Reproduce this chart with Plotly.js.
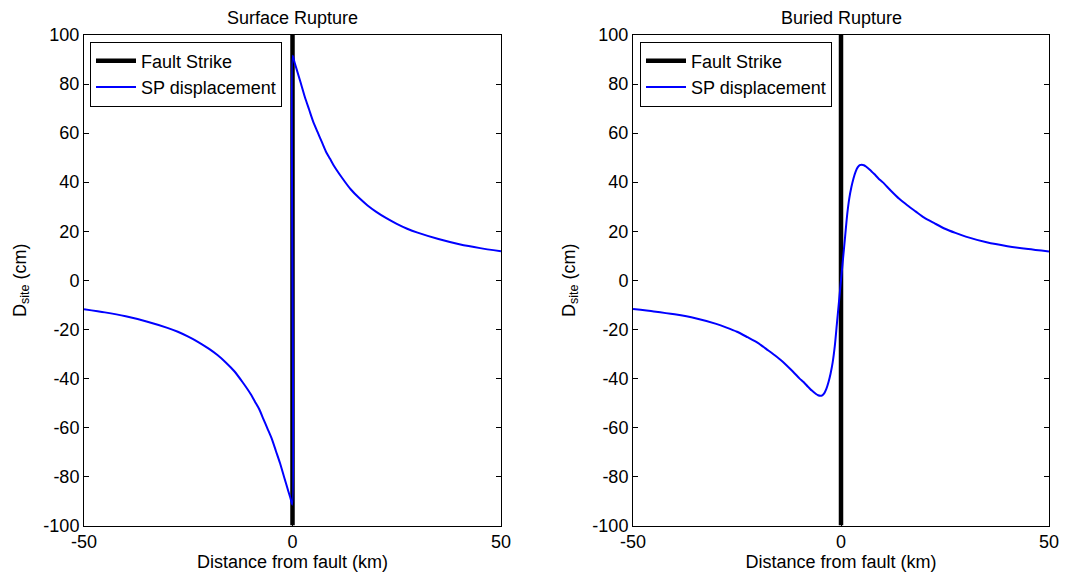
<!DOCTYPE html>
<html>
<head>
<meta charset="utf-8">
<script src="https://cdn.plot.ly/plotly-3.0.1.min.js"></script>
<style>html,body{margin:0;padding:0;background:#fff;}#chart{width:1065px;height:577px;}</style>
</head>
<body>
<div id="chart"></div>
<script>
// ---- data ----
var panelTitles = ["Surface Rupture", "Buried Rupture"];
var legendNames = ["Fault Strike", "SP displacement"];
var faultX = [0, 0];
var faultY = [-100, 100];

var surfX = [-50,-45,-40,-35,-30,-27.5,-25,-22.5,-20,-18,-16,-14,-12,-10,-9,-8,-7,-6,-5,-4,-3,-2,-1,-0.5,-0.05,
             0.05,0.5,1,2,3,4,5,6,7,8,9,10,12,14,16,18,20,22.5,25,27.5,30,35,40,45,50];
var surfY = [-11.8,-13.1,-14.7,-16.8,-19.4,-21,-23,-25.3,-28,-30.5,-33.5,-37,-41.5,-46.5,-49.5,-52.5,-56.5,-60.5,-64.5,-69.5,-74.5,-80.3,-86,-88.8,-91.5,
             91.5,88.8,86,80.3,74.5,69.5,64.5,60.5,56.5,52.5,49.5,46.5,41.5,37,33.5,30.5,28,25.3,23,21,19.4,16.8,14.7,13.1,11.8];

var buriedX = [-50,-45,-40,-35,-30,-27.5,-25,-22.5,-20,-18,-16,-14,-12,-10,-9,-8,-7,-6,-5.5,-5,-4.5,-4,-3.5,-3,-2.5,-2,-1.5,-1,-0.5,0,
               0.5,1,1.5,2,2.5,3,3.5,4,4.5,5,5.5,6,7,8,9,10,12,14,16,18,20,22.5,25,27.5,30,35,40,45,50];
var buriedY = [-11.7,-12.7,-13.9,-15.5,-17.8,-19.3,-21,-23.2,-25.5,-28,-30.5,-33.2,-36.5,-40,-41.5,-43.3,-45,-46.4,-46.9,-47.1,-46.9,-46,-44.2,-41.5,-38,-33.5,-27,-18,-9,0,
               9,18,27,33.5,38,41.5,44.2,46,46.9,47.1,46.9,46.4,45,43.3,41.5,40,36.5,33.2,30.5,28,25.5,23.2,21,19.3,17.8,15.5,13.9,12.7,11.7];

var xTicks = [-50, 0, 50];
var yTicks = [-100,-80,-60,-40,-20,0,20,40,60,80,100];

// ---- chart ----
var FONT = "Liberation Sans, Arial, sans-serif";
var FS = 18;
var traces = [
  {x: faultX, y: faultY, xaxis: "x", yaxis: "y", mode: "lines", name: legendNames[0],
   line: {color: "#000000", width: 4.5}, legend: "legend"},
  {x: surfX, y: surfY, xaxis: "x", yaxis: "y", mode: "lines", name: legendNames[1],
   line: {color: "#0000ff", width: 2, shape: "spline", smoothing: 0.6}, legend: "legend"},
  {x: faultX, y: faultY, xaxis: "x2", yaxis: "y2", mode: "lines", name: legendNames[0],
   line: {color: "#000000", width: 4.5}, legend: "legend2"},
  {x: buriedX, y: buriedY, xaxis: "x2", yaxis: "y2", mode: "lines", name: legendNames[1],
   line: {color: "#0000ff", width: 2, shape: "spline", smoothing: 0.6}, legend: "legend2"}
];

function xax(domain, anchor) {
  return {domain: domain, anchor: anchor, range: [-50, 50], tickvals: xTicks, ticktext: xTicks.map(String),
    showgrid: false, zeroline: false, showline: true, linecolor: "#000", linewidth: 1, mirror: "ticks",
    ticks: "inside", ticklen: 5, tickcolor: "#000", tickfont: {family: FONT, size: FS, color: "#000"},
    title: {text: "Distance from fault (km)", font: {family: FONT, size: FS, color: "#000"}, standoff: 4}};
}
function yax(domain, anchor) {
  return {domain: domain, anchor: anchor, range: [-100, 100], tickvals: yTicks, ticktext: yTicks.map(String),
    showgrid: false, zeroline: false, showline: true, linecolor: "#000", linewidth: 1, mirror: "ticks",
    ticks: "inside", ticklen: 5, tickcolor: "#000", tickfont: {family: FONT, size: FS, color: "#000"},
    title: {text: "D<sub>site</sub> (cm)", font: {family: FONT, size: FS, color: "#000"}, standoff: 12}};
}
var yDom = [1 - 525.5/577, 1 - 35/577];
var layout = {
  width: 1065, height: 577,
  margin: {l: 0, r: 0, t: 0, b: 0},
  paper_bgcolor: "#fff", plot_bgcolor: "#fff",
  font: {family: FONT, size: FS, color: "#000"},
  xaxis: xax([84/1065, 501/1065], "y"),
  yaxis: yax(yDom, "x"),
  xaxis2: xax([633/1065, 1049/1065], "y2"),
  yaxis2: yax(yDom, "x2"),
  showlegend: true,
  legend: {x: 90/1065, y: 1 - 41.5/577, xanchor: "left", yanchor: "top", bgcolor: "#fff",
    bordercolor: "#000", borderwidth: 1, font: {family: FONT, size: FS, color: "#000"},
    tracegroupgap: 0, itemwidth: 40},
  legend2: {x: 640/1065, y: 1 - 41.5/577, xanchor: "left", yanchor: "top", bgcolor: "#fff",
    bordercolor: "#000", borderwidth: 1, font: {family: FONT, size: FS, color: "#000"},
    tracegroupgap: 0, itemwidth: 40},
  annotations: [
    {text: panelTitles[0], xref: "paper", yref: "paper", x: 292.5/1065, y: 1 - 18/577,
     xanchor: "center", yanchor: "middle", showarrow: false, font: {family: FONT, size: FS, color: "#000"}},
    {text: panelTitles[1], xref: "paper", yref: "paper", x: 841/1065, y: 1 - 18/577,
     xanchor: "center", yanchor: "middle", showarrow: false, font: {family: FONT, size: FS, color: "#000"}}
  ]
};
Plotly.newPlot("chart", traces, layout, {displayModeBar: false, staticPlot: true});
</script>
</body>
</html>
